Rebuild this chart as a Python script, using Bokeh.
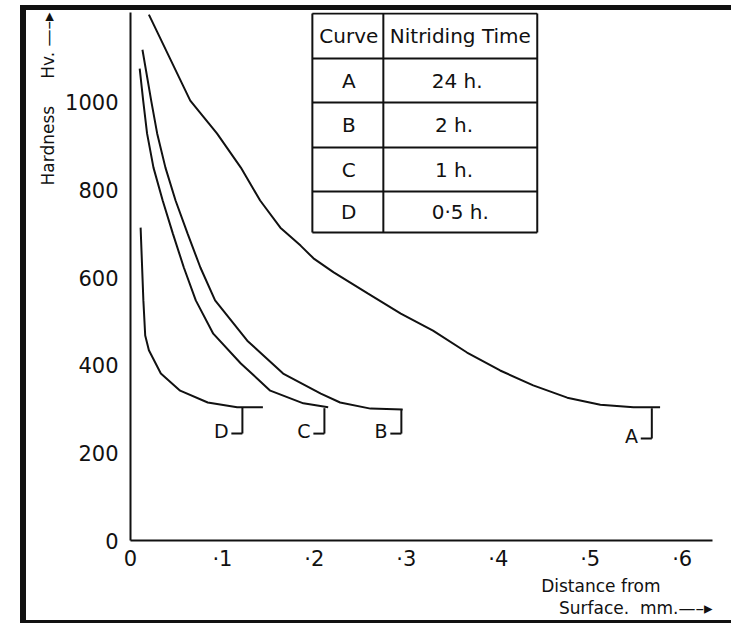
from bokeh.plotting import figure
from bokeh.models import Range1d, FixedTicker, CustomJSTickFormatter, Title
from bokeh.core.properties import value
from bokeh.embed import file_html
from bokeh.resources import INLINE

FONT = "DejaVu Sans"
INK = "#111111"
NB = "\u00a0"

# ---------------- data ----------------
# distance from surface (mm) and hardness (Hv)
a_dist = [0.020, 0.065, 0.094, 0.120, 0.141, 0.163, 0.185, 0.199, 0.221, 0.258, 0.294, 0.329,
          0.366, 0.402, 0.438, 0.475, 0.511, 0.547, 0.576]
a_hv = [1200, 1004, 929, 851, 776, 714, 673, 644, 612, 564, 518, 479,
        429, 388, 354, 326, 310, 304, 304]

b_dist = [0.013, 0.0225, 0.029, 0.038, 0.049, 0.062, 0.076, 0.092, 0.127, 0.166, 0.207, 0.228, 0.261, 0.296]
b_hv = [1120, 1004, 929, 851, 776, 701, 623, 548, 456, 381, 335, 315, 301, 299]

c_dist = [0.010, 0.0138, 0.018, 0.025, 0.035, 0.046, 0.058, 0.071, 0.090, 0.120, 0.152, 0.188, 0.215]
c_hv = [1077, 1004, 929, 851, 776, 701, 623, 548, 472, 404, 342, 313, 304]

d_dist = [0.011, 0.014, 0.016, 0.020, 0.033, 0.054, 0.084, 0.116, 0.144]
d_hv = [714, 548, 468, 434, 381, 342, 315, 304, 304]

curve_names = ["A", "B", "C", "D"]
nitriding_times = ["24  h.", "2   h.", "1   h.", "0\u00b75 h."]
table_header = ["Curve", "Nitriding Time"]

# where each curve's name marker hangs from the curve (mm, Hv)
marker_dist = [0.567, 0.2946, 0.2109, 0.1217]
marker_top_hv = [302, 300, 302, 303]
marker_bottom_hv = [233, 244, 244, 244]

x_ticks = [0, 0.1, 0.2, 0.3, 0.4, 0.5, 0.6]
x_tick_labels = ["0", "\u00b71", "\u00b72", "\u00b73", "\u00b74", "\u00b75", "\u00b76"]
y_ticks = [0, 200, 400, 600, 800, 1000]

x_title_1 = "Distance" + NB + "from"
x_title_2 = "Surface." + NB * 2 + "mm.\u2014\u2013\u25b8"
y_title = "Hardness" + NB * 5 + "Hv." + NB + "\u2014\u2013\u25b8"

# ---------------- figure ----------------
p = figure(width=711, height=618,
           x_range=Range1d(0, 0.633), y_range=Range1d(0, 1205),
           output_backend="svg", toolbar_location=None,
           min_border_left=104, min_border_right=25,
           min_border_top=2, min_border_bottom=88)
p.styles = {"margin-left": "20px", "margin-top": "5px",
            "border-top": "5px solid #111111",
            "border-left": "6px solid #111111",
            "border-bottom": "3px solid #111111"}
p.title.visible = False
p.grid.visible = False
p.outline_line_color = None
p.background_fill_color = "white"
p.border_fill_color = "white"

for ax in (p.xaxis[0], p.yaxis[0]):
    ax.axis_line_color = INK
    ax.axis_line_width = 2
    ax.major_tick_in = 0
    ax.major_tick_out = 0
    ax.minor_tick_in = 0
    ax.minor_tick_out = 0
    ax.major_label_text_font = FONT
    ax.major_label_text_font_size = "21px"
    ax.major_label_text_color = INK

p.xaxis.ticker = FixedTicker(ticks=x_ticks)
p.xaxis.formatter = CustomJSTickFormatter(
    args=dict(tvals=x_ticks, tlabels=x_tick_labels),
    code="""
    for (let i = 0; i < tvals.length; i++) {
        if (Math.abs(tvals[i] - tick) < 1e-9) { return tlabels[i]; }
    }
    return "";
    """)
p.xaxis.major_label_standoff = 6
p.yaxis.ticker = FixedTicker(ticks=y_ticks)
p.yaxis.major_label_standoff = 12

# axis titles as side-panel titles
tkw = dict(text_font=FONT, text_font_size="17px", text_font_style="normal", text_color=INK)
p.add_layout(Title(text=x_title_1, align="right", offset=52, standoff=0, **tkw), "below")
p.add_layout(Title(text=x_title_2, align="right", offset=0, standoff=0, **tkw), "below")
p.add_layout(Title(text=y_title, align="right", offset=0, standoff=9, **tkw), "left")

# ---------------- curves ----------------
for xs, ys in ((a_dist, a_hv), (b_dist, b_hv), (c_dist, c_hv), (d_dist, d_hv)):
    p.line(xs, ys, line_color=INK, line_width=2)

# curve name markers ("letter + hook")
hook = 0.012
p.segment(x0=marker_dist, y0=marker_top_hv, x1=marker_dist, y1=marker_bottom_hv,
          line_color=INK, line_width=2)
p.segment(x0=marker_dist, y0=marker_bottom_hv,
          x1=[m - hook for m in marker_dist], y1=marker_bottom_hv,
          line_color=INK, line_width=2)
p.text(x=[m - hook - 0.003 for m in marker_dist], y=[b + 6 for b in marker_bottom_hv],
       text=curve_names, text_font=value(FONT), text_font_size="19px",
       text_align="right", text_baseline="middle", text_color=INK)

# ---------------- table ----------------
t_left, t_mid, t_right = 0.1978, 0.2750, 0.4424
t_rows = [1202.6, 1100.0, 999.5, 896.8, 796.4, 702.9]
tx, ty = [], []
for yv in t_rows:
    tx.append([t_left, t_right]); ty.append([yv, yv])
for xv in (t_left, t_mid, t_right):
    tx.append([xv, xv]); ty.append([t_rows[0], t_rows[-1]])
p.multi_line(tx, ty, line_color=INK, line_width=2)

c1 = (t_left + t_mid) / 2 + 0.001
c2 = (t_mid + t_right) / 2
row_c = [(t_rows[i] + t_rows[i + 1]) / 2 for i in range(len(t_rows) - 1)]
p.text(x=[c1, c2] + [c1] * 4 + [c2] * 4,
       y=[row_c[0], row_c[0]] + row_c[1:] + row_c[1:],
       text=table_header + curve_names + nitriding_times,
       text_font=value(FONT), text_font_size="20px",
       text_align="center", text_baseline="middle", text_color=INK)

open("out.html", "w").write(file_html(p, INLINE))
